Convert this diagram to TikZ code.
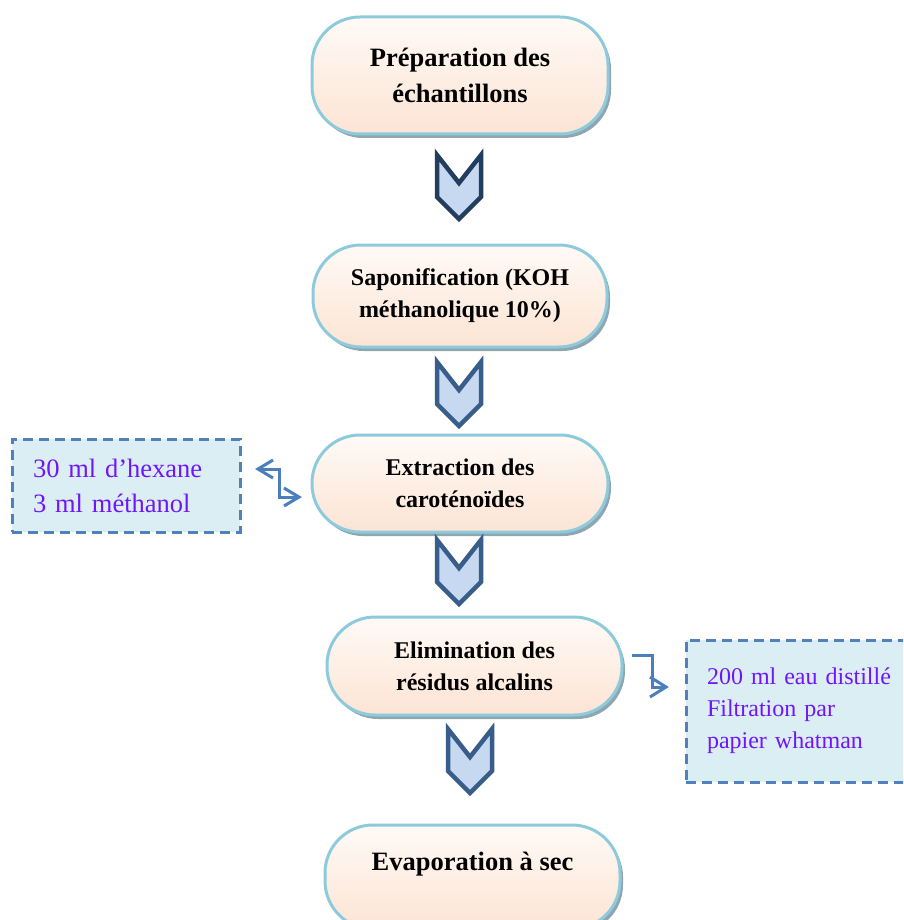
\documentclass[tikz,border=0pt]{standalone}
\usepackage{fontspec}
\setmainfont{Liberation Serif}
\usetikzlibrary{shadows,calc}
\definecolor{pillborder}{HTML}{8DCBDC}
\definecolor{pilltop}{HTML}{FFFAF6}
\definecolor{pillbot}{HTML}{FCE4D4}
\definecolor{shadowc}{HTML}{8EA6B2}
\definecolor{chevdark}{HTML}{223D5E}
\definecolor{chevmid}{HTML}{385D8A}
\definecolor{chevfill}{HTML}{C6D9F1}
\definecolor{dashc}{HTML}{4F81BD}
\definecolor{notefill}{HTML}{DAEEF3}
\definecolor{notetext}{HTML}{7016F8}
\definecolor{connc}{HTML}{4A7EBD}
\begin{document}
\begin{tikzpicture}[x=1pt,y=-1pt,
  pill/.style={rectangle, rounded corners=48pt, draw=pillborder, line width=3pt,
    top color=pilltop, bottom color=pillbot,
    drop shadow={shadow xshift=3pt,shadow yshift=-4pt,fill=shadowc,opacity=1},
    align=center, font=\bfseries\fontsize{24}{32}\selectfont, inner sep=0pt},
  note/.style={rectangle, draw=dashc, line width=3pt, dash pattern=on 10pt off 6pt,
    fill=notefill, text=notetext, align=left, inner sep=0pt},
  conn/.style={draw=connc, line width=3pt, line join=miter},
  chevline/.style={line width=4.5pt, fill=chevfill, line join=miter},
  pics/chev/.style={code={
    \draw[chevline, draw=#1] (-22,2) -- (0,30) -- (22,2) -- (22,44) -- (0,66) -- (-22,44) -- cycle;
  }}
]
\useasboundingbox (0,0) rectangle (903,920);
\clip (0,0) rectangle (903,920);

% main steps
\node[pill, minimum width=296pt, minimum height=117pt,
      font=\bfseries\fontsize{26.5}{36}\selectfont] (prep) at (460,75.5)
      {Préparation des\\échantillons};
\node[pill, minimum width=294pt, minimum height=102pt] (sapo) at (460,296)
      {Saponification (KOH\\méthanolique 10\%)};
\node[pill, minimum width=296pt, minimum height=97pt] (extr) at (460,483.5)
      {Extraction des\\caroténoïdes};
\node[pill, minimum width=295pt, minimum height=98pt] (elim) at (474.5,666)
      {Elimination des\\résidus alcalins};
\node[pill, minimum width=295pt, minimum height=104pt,
      font=\bfseries\fontsize{26.5}{36}\selectfont, text height=18pt, text depth=32pt]
      (evap) at (472.5,877) {Evaporation à sec};

% chevrons
\pic at (459,153) {chev=chevdark};
\pic at (459,360) {chev=chevmid};
\pic at (459,538) {chev=chevmid};
\pic at (470,727) {chev=chevmid};

% side notes
\node[note, minimum width=228pt, minimum height=93pt, text width=186pt,
      font=\fontsize{26.5}{35}\selectfont] (solv) at (126,485.5)
      {30 ml d’hexane\\3 ml méthanol};
\node[note, minimum width=232pt, minimum height=142pt, text width=190pt,
      font=\fontsize{24}{32}\selectfont] (wash) at (802,711)
      {200 ml eau distillé\\Filtration par\\papier whatman};

% connectors
\coordinate (l1) at (258,469);
\coordinate (l2) at (299,497);
\draw[conn] (l1) -- ++(21,0) |- (l2);
\draw[conn] ($(l1)+(15,-9)$) -- (l1) -- ($(l1)+(15,9)$);
\draw[conn] ($(l2)+(-15,-9)$) -- (l2) -- ($(l2)+(-15,9)$);
\coordinate (r1) at (632,655);
\coordinate (r2) at (666,687);
\draw[conn] (r1) -- ++(20,0) |- (r2);
\draw[conn] ($(r2)+(-16,-10)$) -- (r2) -- ($(r2)+(-16,10)$);
\end{tikzpicture}
\end{document}
